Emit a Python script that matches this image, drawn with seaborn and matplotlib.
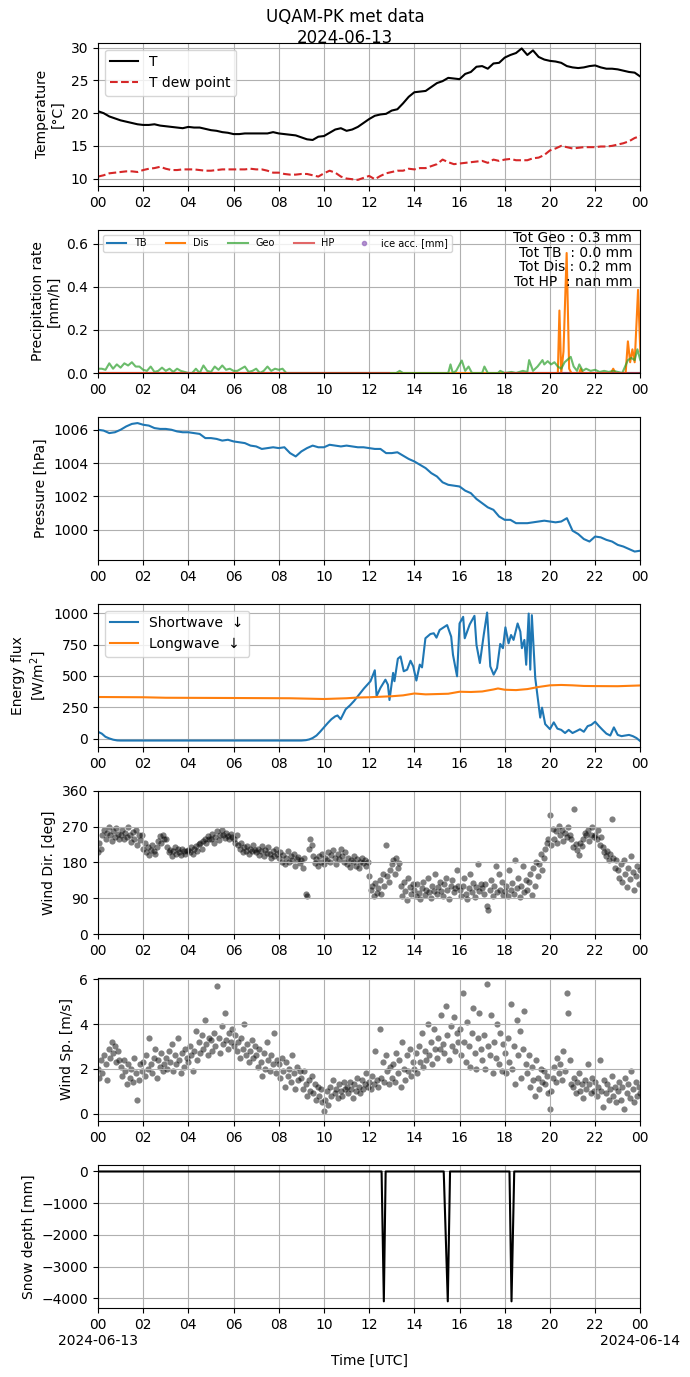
import numpy as np
import pandas as pd
import matplotlib
matplotlib.use('Agg')
import matplotlib.pyplot as plt
import matplotlib.dates as mdates
import seaborn as sns

day = pd.Timestamp('2024-06-13')

# Temperature / dew point every 15 min [degC]
temp = [20.3, 20.0, 19.5, 19.2,
        18.9, 18.7, 18.5, 18.3,
        18.2, 18.2, 18.3, 18.1,
        18.0, 17.9, 17.8, 17.7,
        17.9, 17.8, 17.8, 17.6,
        17.4, 17.3, 17.1, 17.0,
        16.8, 16.8, 16.9, 16.9,
        16.9, 16.9, 16.9, 17.1,
        16.9, 16.8, 16.7, 16.6,
        16.3, 16.0, 15.9, 16.4,
        16.5, 17.0, 17.5, 17.7,
        17.3, 17.5, 17.9, 18.5,
        19.1, 19.6, 19.8, 19.9,
        20.4, 20.6, 21.5, 22.5,
        23.2, 23.3, 23.4, 24.0,
        24.6, 24.9, 25.4, 25.3,
        25.2, 26.0, 26.3, 27.1,
        27.2, 26.8, 27.6, 27.7,
        28.5, 28.9, 29.2, 29.9,
        28.9, 29.6, 28.6, 28.2,
        28.0, 27.9, 27.7, 27.2,
        27.0, 26.9, 27.0, 27.2,
        27.3, 27.0, 26.8, 26.8,
        26.7, 26.5, 26.3, 26.2,
        25.6]
dewpoint = [10.3, 10.5, 10.8, 10.9,
            11.0, 11.1, 11.1, 11.0,
            11.3, 11.5, 11.6, 11.8,
            11.5, 11.3, 11.3, 11.4,
            11.4, 11.4, 11.3, 11.2,
            11.2, 11.3, 11.4, 11.4,
            11.4, 11.4, 11.4, 11.5,
            11.4, 11.4, 11.2, 10.9,
            10.9, 10.7, 10.6, 10.6,
            10.7, 10.7, 10.5, 10.3,
            10.8, 11.2, 10.9, 10.3,
            10.0, 9.9, 9.8, 10.1,
            10.4, 9.9, 10.4, 10.8,
            11.0, 11.2, 11.2, 11.5,
            11.4, 11.6, 11.6, 11.9,
            12.2, 12.9, 12.5, 12.2,
            12.3, 12.4, 12.5, 12.6,
            12.7, 12.4, 12.9, 12.7,
            12.9, 13.0, 12.8, 12.8,
            12.8, 13.1, 13.2, 13.6,
            14.3, 14.6, 15.0, 14.8,
            14.6, 14.7, 14.8, 14.8,
            14.8, 14.9, 14.9, 15.0,
            15.2, 15.4, 15.7, 16.2,
            16.5]

# Pressure every 15 min [hPa]
pressure = [1006.0, 1005.95, 1005.8, 1005.85,
            1006.0, 1006.2, 1006.35, 1006.4,
            1006.3, 1006.25, 1006.1, 1006.05,
            1006.05, 1006.0, 1005.9, 1005.85,
            1005.85, 1005.8, 1005.75, 1005.5,
            1005.5, 1005.45, 1005.35, 1005.4,
            1005.3, 1005.25, 1005.2, 1005.05,
            1005.0, 1004.85, 1004.9, 1004.95,
            1004.9, 1004.95, 1004.6, 1004.4,
            1004.7, 1004.9, 1005.05, 1004.95,
            1004.95, 1005.1, 1005.05, 1005.0,
            1005.05, 1005.0, 1004.95, 1004.95,
            1004.9, 1004.85, 1004.85, 1004.6,
            1004.6, 1004.65, 1004.45, 1004.25,
            1004.1, 1003.9, 1003.7, 1003.4,
            1003.2, 1002.85, 1002.7, 1002.65,
            1002.6, 1002.35, 1002.2, 1001.85,
            1001.6, 1001.35, 1001.2, 1000.8,
            1000.6, 1000.6, 1000.4, 1000.4,
            1000.4, 1000.45, 1000.5, 1000.55,
            1000.5, 1000.45, 1000.5, 1000.7,
            999.95, 999.75, 999.45, 999.3,
            999.6, 999.55, 999.4, 999.3,
            999.1, 999.0, 998.85, 998.7,
            998.75]

# Precipitation rate [mm/h] (hour, value)
geo_hours = [i / 6 for i in range(51)] + [
    8.5, 13.2, 13.35, 13.5, 15.5, 15.6, 15.7, 15.85, 16.1, 16.25, 16.4, 16.55,
    17.0, 17.1, 17.25, 17.7, 17.8, 18.0, 18.3, 18.5, 18.8, 19.0, 19.08, 19.25,
    19.45, 19.6, 19.67, 19.75, 19.9, 20.05, 20.2, 20.35, 20.5, 20.65, 20.92,
    21.05, 21.2, 21.3, 21.45, 21.6, 21.8, 22.0, 22.2, 22.4, 22.6, 22.8, 23.0,
    23.2, 23.45, 23.6, 23.75, 23.87, 24.0]
geo_vals = [0.02, 0.02, 0.015, 0.045, 0.02, 0.04,
            0.025, 0.045, 0.035, 0.05, 0.03, 0.03,
            0.015, 0.01, 0.03, 0.005, 0.01, 0.025,
            0.01, 0.02, 0.005, 0.02, 0.01, 0.005,
            0.0, 0.0, 0.02, 0.0, 0.035, 0.01,
            0.005, 0.03, 0.015, 0.035, 0.015, 0.02,
            0.01, 0.01, 0.02, 0.03, 0.005, 0.01,
            0.02, 0.0, 0.01, 0.03, 0.01, 0.02,
            0.015, 0.02, 0.0] + [
    0.0, 0.0, 0.01, 0.0, 0.0, 0.04, 0.0, 0.01, 0.058, 0.01, 0.03, 0.0,
    0.0, 0.03, 0.0, 0.0, 0.01, 0.0, 0.005, 0.0, 0.01, 0.005, 0.06, 0.01,
    0.03, 0.05, 0.06, 0.04, 0.055, 0.04, 0.05, 0.03, 0.02, 0.05, 0.075,
    0.03, 0.01, 0.04, 0.01, 0.02, 0.01, 0.015, 0.005, 0.01, 0.005, 0.01, 0.005,
    0.0, 0.06, 0.07, 0.06, 0.11, 0.06]
dis_hours = [0.0, 20.35, 20.42, 20.5, 20.6, 20.74, 20.85, 20.95, 21.3, 21.36, 21.45,
             22.7, 22.8, 22.9, 23.35, 23.45, 23.55, 23.65, 23.75, 23.9, 24.0]
dis_vals = [0.0, 0.0, 0.29, 0.0, 0.1, 0.557, 0.02, 0.0, 0.0, 0.02, 0.0,
            0.0, 0.02, 0.0, 0.0, 0.147, 0.05, 0.11, 0.05, 0.386, 0.1]
tb_hours = [0, 6, 12, 18, 24]
tb_vals = [0.0, 0.0, 0.0, 0.0, 0.0]
hp_hours_a = [0.0, 12.9]
hp_vals_a = [0.0, 0.0]
hp_hours_b = [18.0, 24.0]
hp_vals_b = [0.0, 0.0]
totals_text = 'Tot Geo : 0.3 mm\nTot TB  : 0.0 mm\nTot Dis : 0.2 mm\nTot HP  : nan mm'

# Radiation [W/m2] (hour, value)
sw_hours = [0, 0.17, 0.33, 0.5, 0.67, 0.85, 1.0, 9.0, 9.2, 9.35, 9.5, 9.67, 9.83,
            10.0, 10.17, 10.33, 10.5, 10.6, 10.74, 10.96, 11.15, 11.33, 11.55,
            11.77, 12.06, 12.25, 12.33, 12.5, 12.72, 12.83, 12.9, 13.06, 13.12,
            13.27, 13.39, 13.53, 13.68, 13.83, 13.95, 14.09, 14.24, 14.34, 14.49,
            14.71, 14.86, 14.98, 15.12, 15.45, 15.63, 15.71, 15.89, 16.0, 16.16,
            16.23, 16.45, 16.66, 16.75, 16.9, 17.07, 17.22, 17.36, 17.51, 17.66,
            17.8, 17.92, 18.03, 18.17, 18.28, 18.39, 18.57, 18.69, 18.76, 18.87,
            18.95, 19.06, 19.13, 19.2, 19.35, 19.57, 19.65, 19.79, 20.0, 20.17,
            20.33, 20.5, 20.67, 20.83, 21.0, 21.17, 21.33, 21.5, 21.67, 21.83,
            22.0, 22.17, 22.33, 22.5, 22.67, 22.83, 23.0, 23.17, 23.33, 23.5,
            23.67, 23.83, 24.0]
sw_vals = [55, 40, 15, 2, -8, -14, -15, -15, -12, -6, 5, 25, 55,
           90, 125, 155, 178, 185, 155, 234, 265, 300, 350,
           400, 458, 545, 340, 405, 470, 430, 308, 524, 458,
           637, 655, 537, 550, 621, 576, 463, 590, 568, 800,
           834, 840, 805, 866, 905, 813, 668, 497, 918, 971,
           800, 910, 979, 747, 603, 826, 1005, 576, 510, 563,
           755, 721, 887, 760, 826, 787, 918, 853, 721, 787,
           589, 997, 550, 984, 484, 168, 247, 116, 76, 130,
           80, 70, 45, 70, 45, 60, 75, 55, 100, 110,
           135, 100, 70, 40, 25, 90, 30, 20, 25, 30,
           20, 5, -20]
lw_hours = [0, 2, 3, 6, 8.5, 10, 11, 11.5, 12, 13, 13.5, 14, 14.5, 15.5, 16,
            16.5, 17, 17.5, 17.7, 18, 18.5, 19, 19.5, 20, 20.5, 21, 21.5, 22,
            23, 24]
lw_vals = [332, 330, 326, 324, 322, 316, 322, 328, 330, 338, 345, 360, 353,
           358, 374, 372, 376, 392, 400, 390, 387, 395, 412, 425, 428, 425,
           420, 419, 418, 424]

# Wind, every 4 min
wind_dir = [205, 230, 215, 250, 262, 240, 255, 270, 248, 235, 258, 245, 266, 252, 240,
            250, 262, 238, 255, 244, 270, 248, 232, 256, 240, 262, 225, 250, 236, 248,
            215, 230, 205, 220, 198, 212, 225, 208, 200, 218, 235, 246, 228, 250, 238,
            240, 218, 205, 212, 196, 208, 220, 200, 214, 206, 198, 215, 210, 202, 208,
            212, 205, 218, 200, 215, 222, 208, 226, 230, 215, 235, 240, 228, 246, 238,
            240, 252, 230, 245, 258, 236, 248, 262, 250, 242, 255, 246, 238, 252, 244,
            240, 230, 248, 225, 215, 228, 205, 218, 210, 222, 200, 215, 208, 225, 212,
            205, 215, 198, 210, 222, 196, 212, 204, 218, 200, 190, 208, 196, 214, 202,
            190, 205, 182, 198, 175, 192, 208, 180, 196, 186, 200, 170, 188, 194, 178,
            185, 165, 192, 100, 95, 215, 238, 225, 196, 178, 188, 170, 195, 182, 200,
            176, 192, 185, 205, 180, 198, 212, 190, 176, 200, 188, 215, 195, 182, 205,
            175, 190, 168, 185, 180, 196, 172, 188, 165, 182, 192, 178, 186, 170, 182,
            145, 110, 120, 95, 128, 104, 115, 135, 100, 150, 122, 225, 145, 130, 160,
            175, 185, 150, 190, 165, 178, 120, 95, 130, 108, 85, 140, 118, 100, 125,
            110, 95, 125, 104, 88, 115, 130, 98, 112, 140, 105, 90, 120, 108, 150,
            100, 118, 130, 108, 95, 125, 140, 112, 88, 120, 135, 105, 115, 160, 122,
            110, 95, 120, 140, 100, 88, 115, 150, 105, 128, 92, 118, 175, 108, 125,
            115, 100, 125, 70, 60, 110, 135, 95, 120, 170, 105, 150, 112, 130, 98,
            108, 120, 95, 160, 112, 128, 100, 185, 115, 140, 92, 122, 170, 105, 135,
            110, 130, 150, 98, 165, 120, 180, 145, 175, 200, 160, 190, 215, 230, 240,
            300, 225, 265, 240, 258, 230, 272, 248, 262, 235, 255, 244, 268, 250, 240,
            218, 315, 226, 212, 198, 230, 222, 240, 255, 248, 262, 235, 250, 270, 245,
            250, 238, 262, 225, 245, 220, 205, 195, 210, 185, 200, 290, 192, 165, 185,
            160, 140, 175, 130, 185, 150, 118, 165, 138, 195, 155, 110, 145, 170, 125,
            160]
wind_speed = [2.0, 1.6, 2.4, 1.8, 2.6, 2.2, 1.5, 2.9, 2.5, 3.2, 2.7, 3.0, 2.3, 2.8, 2.4,
              2.1, 1.7, 2.4, 1.9, 1.3, 2.2, 1.6, 2.0, 1.4, 2.5, 1.8, 0.6, 1.5, 2.2, 1.9,
              2.3, 1.7, 2.6, 2.0, 3.4, 2.2, 1.8, 2.5, 2.9, 1.6, 2.4, 2.1, 2.7, 1.9, 2.2,
              2.5, 2.0, 2.8, 2.3, 3.1, 1.9, 2.6, 2.2, 3.4, 2.4, 1.8, 2.7, 2.1, 2.9, 2.5,
              2.3, 3.0, 2.6, 1.9, 2.8, 3.7, 2.4, 3.2, 2.7, 3.5, 2.9, 4.2, 3.1, 2.6, 3.4,
              3.3, 2.8, 3.6, 3.0, 5.7, 3.4, 2.7, 3.9, 3.1, 4.5, 3.3, 2.9, 3.6, 3.2, 3.8,
              3.0, 3.5, 2.8, 3.2, 2.5, 3.4, 2.9, 4.0, 2.6, 3.1, 2.3, 2.8, 3.3, 2.5, 3.0,
              2.6, 2.1, 2.9, 2.3, 1.7, 2.7, 2.0, 3.2, 2.4, 1.9, 2.6, 2.2, 3.6, 1.8, 2.4,
              2.2, 1.6, 2.5, 1.9, 1.2, 2.3, 1.7, 2.0, 1.4, 2.6, 1.8, 1.1, 2.1, 1.5, 1.9,
              1.6, 1.1, 1.9, 1.3, 0.8, 1.5, 1.0, 1.7, 0.9, 1.3, 0.6, 1.2, 0.8, 1.1, 0.5,
              0.1, 0.6, 1.0, 0.4, 1.2, 0.8, 1.5, 0.9, 1.1, 0.7, 1.3, 1.0, 0.8, 1.4, 1.1,
              1.2, 0.9, 1.4, 1.1, 0.7, 1.3, 1.0, 1.6, 1.2, 0.9, 1.5, 1.1, 1.3, 1.8, 1.2,
              1.4, 1.1, 1.7, 1.3, 2.8, 1.5, 1.2, 3.8, 1.6, 2.3, 1.4, 2.6, 1.9, 1.3, 2.1,
              1.6, 2.2, 1.4, 2.7, 1.8, 2.4, 1.2, 3.2, 2.0, 1.5, 2.6, 1.9, 2.9, 1.7, 2.3,
              2.0, 2.7, 1.8, 3.0, 2.3, 3.6, 2.1, 2.8, 2.4, 4.0, 2.6, 3.2, 2.2, 3.8, 2.9,
              2.5, 3.4, 2.9, 4.4, 3.1, 2.7, 4.8, 3.5, 2.4, 3.9, 3.0, 4.3, 2.8, 3.6, 3.2,
              3.8, 2.6, 5.4, 3.2, 2.3, 4.1, 3.0, 2.1, 3.6, 4.7, 2.7, 2.0, 3.4, 4.5, 2.9,
              2.4, 3.5, 2.0, 5.8, 3.0, 2.6, 4.4, 1.8, 3.2, 2.5, 4.0, 2.2, 3.6, 1.9, 3.1,
              2.7, 1.8, 3.4, 2.3, 4.9, 2.0, 3.0, 1.3, 4.2, 2.6, 3.7, 1.6, 2.9, 4.6, 2.2,
              1.8, 2.6, 1.2, 2.1, 1.5, 0.8, 2.4, 1.6, 1.1, 2.0, 1.4, 1.9, 1.3, 1.7, 0.9,
              0.2, 1.0, 1.6, 2.1, 1.4, 2.5, 1.8, 2.2, 1.5, 2.8, 1.9, 5.4, 4.5, 2.4, 1.3,
              1.2, 1.6, 0.9, 1.4, 1.8, 1.0, 1.3, 0.7, 1.5, 1.1, 2.2, 1.3, 0.9, 1.6, 1.0,
              1.4, 0.8, 1.2, 2.4, 1.0, 0.3, 1.5, 0.9, 1.3, 0.6, 1.1, 1.7, 0.8, 1.2, 0.5,
              1.0, 1.4, 0.6, 1.2, 0.2, 1.6, 0.9, 1.3, 0.7, 1.9, 1.1, 0.5, 1.4, 0.8, 1.2,
              0.9]

# Snow depth [mm] (hour, value)
snow_hours = [0, 12.55, 12.65, 12.73, 15.3, 15.48, 15.58, 18.21, 18.3, 18.42, 24]
snow_vals = [0, 0, -4100, 0, 0, -4100, 0, 0, -4100, 0, 0]


def hours_to_time(hours):
    return day + pd.to_timedelta(np.asarray(hours, dtype=float), unit='h')


t15 = pd.date_range(day, periods=len(temp), freq='15min')
t4 = pd.date_range(day, periods=len(wind_dir), freq='4min')

fig, axes = plt.subplots(7, 1, figsize=(6.9, 13.77), dpi=100)
fig.subplots_adjust(left=0.142, right=0.928, top=0.969, bottom=0.050, hspace=0.305)
fig.suptitle('UQAM-PK met data\n2024-06-13', fontsize=12, y=0.994)

# Temperature
ax = axes[0]
sns.lineplot(x=t15, y=temp, ax=ax, color='black', label='T')
sns.lineplot(x=t15, y=dewpoint, ax=ax, color='tab:red', linestyle='--', label='T dew point')
ax.set_ylim(8.86, 30.78)
ax.set_ylabel('Temperature\n[°C]')
ax.legend(loc='upper left', fontsize=10)

# Precipitation
ax = axes[1]
sns.lineplot(x=hours_to_time(tb_hours), y=tb_vals, ax=ax, color='tab:blue', label='TB')
sns.lineplot(x=hours_to_time(dis_hours), y=dis_vals, ax=ax, color='tab:orange', label='Dis')
sns.lineplot(x=hours_to_time(geo_hours), y=geo_vals, ax=ax, color='tab:green', alpha=0.7, label='Geo')
sns.lineplot(x=hours_to_time(hp_hours_a), y=hp_vals_a, ax=ax, color='tab:red', alpha=0.7, label='HP')
sns.lineplot(x=hours_to_time(hp_hours_b), y=hp_vals_b, ax=ax, color='tab:red', alpha=0.7)
ax.plot([], [], 'o', color='tab:purple', alpha=0.7, markersize=3, label='ice acc. [mm]')
ax.set_ylim(0, 0.665)
ax.set_ylabel('Precipitation rate\n[mm/h]')
ax.legend(loc='upper left', ncol=5, fontsize=7)
ax.text(0.985, 0.99, totals_text, transform=ax.transAxes, ha='right', va='top',
        fontsize=10, multialignment='right', linespacing=1.05)

# Pressure
ax = axes[2]
sns.lineplot(x=t15, y=pressure, ax=ax, color='tab:blue')
ax.set_ylim(998.19, 1006.78)
ax.set_ylabel('Pressure [hPa]')

# Radiation
ax = axes[3]
sns.lineplot(x=hours_to_time(sw_hours), y=sw_vals, ax=ax, color='tab:blue', label='Shortwave  ↓')
sns.lineplot(x=hours_to_time(lw_hours), y=lw_vals, ax=ax, color='tab:orange', label='Longwave  ↓')
ax.set_ylim(-67, 1075)
ax.set_yticks([0, 250, 500, 750, 1000])
ax.set_ylabel('Energy flux\n[W/m$^2$]')
ax.legend(loc='upper left', fontsize=10)

# Wind direction
ax = axes[4]
sns.scatterplot(x=t4, y=wind_dir, ax=ax, color='black', alpha=0.5, s=20, linewidth=0)
ax.set_ylim(0, 360)
ax.set_yticks([0, 90, 180, 270, 360])
ax.set_ylabel('Wind Dir. [deg]')

# Wind speed
ax = axes[5]
sns.scatterplot(x=t4, y=wind_speed, ax=ax, color='black', alpha=0.5, s=20, linewidth=0)
ax.set_ylim(-0.34, 6.07)
ax.set_yticks([0, 2, 4, 6])
ax.set_ylabel('Wind Sp. [m/s]')

# Snow depth
ax = axes[6]
sns.lineplot(x=hours_to_time(snow_hours), y=snow_vals, ax=ax, color='black')
ax.set_ylim(-4315, 210)
ax.set_ylabel('Snow depth [mm]')
ax.set_xlabel('Time [UTC]')


def last_fmt(x, pos):
    d = mdates.num2date(x)
    if d.hour == 0:
        return d.strftime('%H\n%Y-%m-%d')
    return d.strftime('%H')


for i, ax in enumerate(axes):
    ax.set_xlim(day, day + pd.Timedelta(days=1))
    ax.xaxis.set_major_locator(mdates.HourLocator(byhour=range(0, 24, 2)))
    if i == len(axes) - 1:
        ax.xaxis.set_major_formatter(plt.FuncFormatter(last_fmt))
    else:
        ax.xaxis.set_major_formatter(mdates.DateFormatter('%H'))
        ax.set_xlabel('')
    ax.grid(True)

fig.savefig('out.png', dpi=100)
